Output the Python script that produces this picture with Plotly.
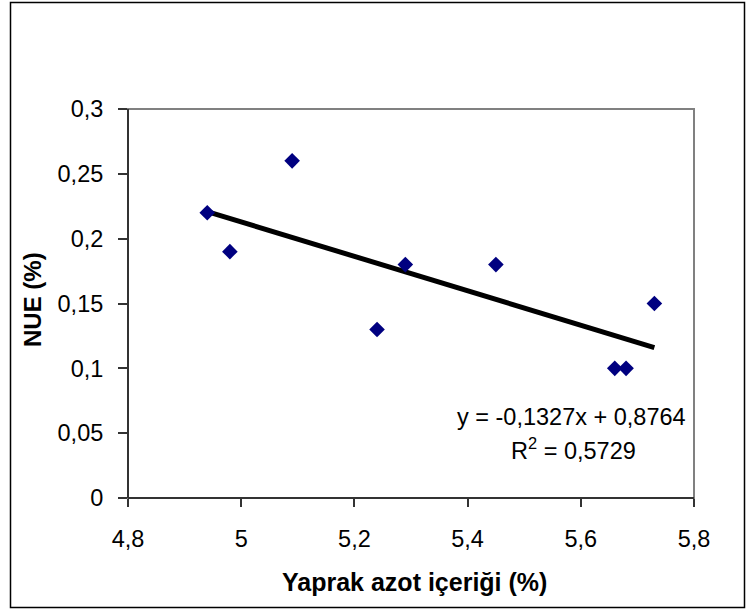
import numpy as np
import plotly.graph_objects as go

# Data
yaprak_azot = [4.94, 4.98, 5.09, 5.24, 5.29, 5.45, 5.66, 5.68, 5.73]
nue = [0.22, 0.19, 0.26, 0.13, 0.18, 0.18, 0.10, 0.10, 0.15]

x_tickvals = [4.8, 5.0, 5.2, 5.4, 5.6, 5.8]
x_ticktext = ["4,8", "5", "5,2", "5,4", "5,6", "5,8"]
y_tickvals = [0, 0.05, 0.1, 0.15, 0.2, 0.25, 0.3]
y_ticktext = ["0", "0,05", "0,1", "0,15", "0,2", "0,25", "0,3"]

eq_text = "y = -0,1327x + 0,8764"
r2_text = "R<sup>2</sup> = 0,5729"

# Linear trendline from the data
slope, intercept = np.polyfit(yaprak_azot, nue, 1)
tx = [min(yaprak_azot), max(yaprak_azot)]
ty = [slope * v + intercept for v in tx]

FONT = "Liberation Sans, Arial, sans-serif"

fig = go.Figure()
fig.add_trace(go.Scatter(x=tx, y=ty, mode="lines",
                         line=dict(color="black", width=5),
                         hoverinfo="skip", showlegend=False))
fig.add_trace(go.Scatter(x=yaprak_azot, y=nue, mode="markers",
                         marker=dict(symbol="diamond", size=12, color="#000080",
                                     line=dict(width=0)),
                         showlegend=False))

W, H = 749, 612
L, R, T, B = 128, 55, 109, 114
pw, ph = W - L - R, H - T - B

def px2paper_x(px):
    return (px - L) / pw

def px2paper_y(py):
    return (H - B - py) / ph

shapes = [
    # plot area border (gray)
    dict(type="rect", xref="paper", yref="paper", x0=0, y0=0, x1=1, y1=1,
         line=dict(color="#808080", width=2), layer="below"),
    # dark axis lines
    dict(type="line", xref="paper", yref="paper", x0=0, y0=0, x1=0, y1=1,
         line=dict(color="#333333", width=2), layer="above"),
    dict(type="line", xref="paper", yref="paper", x0=0, y0=0, x1=1, y1=0,
         line=dict(color="#333333", width=2), layer="above"),
    # outer chart border
    dict(type="rect", xref="paper", yref="paper",
         x0=px2paper_x(10.5), x1=px2paper_x(744.5),
         y0=px2paper_y(607.5), y1=px2paper_y(2.5),
         line=dict(color="black", width=1.5)),
]

annotations = [
    dict(text=eq_text, xref="paper", yref="paper",
         x=px2paper_x(688), y=px2paper_y(417), xanchor="right", yanchor="middle",
         showarrow=False, font=dict(family=FONT, size=23.5, color="black")),
    dict(text=r2_text, xref="paper", yref="paper",
         x=px2paper_x(573.5), y=px2paper_y(449), xanchor="center", yanchor="middle",
         showarrow=False, font=dict(family=FONT, size=23.5, color="black")),
    dict(text="<b>Yaprak azot içeriği (%)</b>", xref="paper", yref="paper",
         x=px2paper_x(414), y=px2paper_y(582), xanchor="center", yanchor="middle",
         showarrow=False, font=dict(family=FONT, size=25, color="black")),
    dict(text="<b>NUE (%)</b>", xref="paper", yref="paper", textangle=-90,
         x=px2paper_x(32), y=px2paper_y(300), xanchor="center", yanchor="middle",
         showarrow=False, font=dict(family=FONT, size=24, color="black")),
]

fig.update_layout(
    width=W, height=H,
    margin=dict(l=L, r=R, t=T, b=B, pad=0),
    paper_bgcolor="white", plot_bgcolor="white",
    font=dict(family=FONT, size=23.5, color="black"),
    shapes=shapes, annotations=annotations,
    xaxis=dict(range=[4.8, 5.8], tickvals=x_tickvals, ticktext=x_ticktext,
               showgrid=False, zeroline=False, showline=False,
               ticks="outside", ticklen=8, tickwidth=1.5, tickcolor="#333333",
               ticklabelstandoff=12, tickfont=dict(family=FONT, size=23.5)),
    yaxis=dict(range=[0, 0.3], tickvals=y_tickvals, ticktext=y_ticktext,
               showgrid=False, zeroline=False, showline=False,
               ticks="outside", ticklen=9, tickwidth=1.5, tickcolor="#333333",
               ticklabelstandoff=10, tickfont=dict(family=FONT, size=23.5)),
)

fig.write_html("out.html")
